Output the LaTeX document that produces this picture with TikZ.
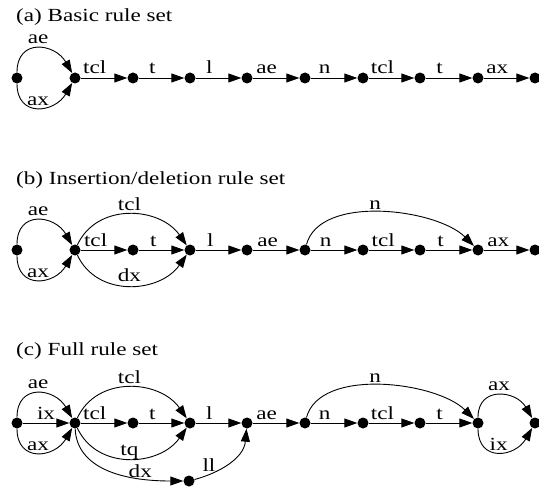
\documentclass[tikz,border=0pt]{standalone}
\usepackage{fontspec}
\setmainfont{Liberation Serif}
\usetikzlibrary{arrows.meta}
% labels are set a little wider than the font's natural shape
\newcommand{\wtext}[1]{\scalebox{1.25}[1]{#1}}
\tikzset{
  dot/.style={circle, fill=black, inner sep=0pt, minimum size=11pt},
  edge/.style={line width=0.9pt, -{Triangle[length=13pt,width=9pt]}},
  lbl/.style={font=\fontsize{18.5}{20}\selectfont, inner sep=0pt, anchor=base},
  title/.style={font=\fontsize{18.5}{20}\selectfont, inner sep=0pt, anchor=base west},
}
\begin{document}
\begin{tikzpicture}[x=1pt,y=-1pt]
\useasboundingbox (0,0) rectangle (539,487);

% panel titles
\node[title] (ta) at (16,22)  {\wtext{(a) Basic rule set}};
\node[title] (tb) at (16,184) {\wtext{(b) Insertion/deletion rule set}};
\node[title] (tc) at (16,355) {\wtext{(c) Full rule set}};

% states of the three networks
\foreach \x [count=\i from 0] in {17,75,133,190,247,305,363,420,478,535} {
  \node[dot] (a\i) at (\x,78)  {};
  \node[dot] (b\i) at (\x,250) {};
  \node[dot] (c\i) at (\x,423) {};
}
\node[dot] (c10) at (189,481) {};

% (a) basic rule set
\draw[edge] (a0) to[out=90,in=120,looseness=1.6] node[lbl,midway,yshift=5pt] {\wtext{ae}} (a1);
\draw[edge] (a0) to[out=-90,in=-120,looseness=1.6] node[lbl,midway,yshift=2pt] {\wtext{ax}} (a1);
\foreach \s/\t/\l in {1/2/tcl,2/3/t,3/4/l,4/5/ae,5/6/n,6/7/tcl,7/8/t,8/9/ax}
  \draw[edge] (a\s) -- node[lbl,pos=0.3,yshift=4pt] {\wtext{\l}} (a\t);

% (b) insertion/deletion rule set
\draw[edge] (b0) to[out=90,in=120,looseness=1.6] node[lbl,midway,yshift=5pt] {\wtext{ae}} (b1);
\draw[edge] (b0) to[out=-90,in=-120,looseness=1.6] node[lbl,midway,yshift=2pt] {\wtext{ax}} (b1);
\draw[edge] (b1) to[out=65,in=125,looseness=1.1] node[lbl,midway,yshift=4pt] {\wtext{tcl}} (b3);
\draw[edge] (b1) to[out=-65,in=-125,looseness=1.1] node[lbl,midway,yshift=4pt] {\wtext{dx}} (b3);
\draw[edge] (b5) to[out=75,in=135,looseness=0.8] node[lbl,pos=0.47,yshift=3pt] {\wtext{n}} (b8);
\foreach \s/\t/\l in {1/2/tcl,2/3/t,3/4/l,4/5/ae,5/6/n,6/7/tcl,7/8/t,8/9/ax}
  \draw[edge] (b\s) -- node[lbl,pos=0.32,yshift=4pt] {\wtext{\l}} (b\t);

% (c) full rule set
\draw[edge] (c0) to[out=90,in=120,looseness=1.6] node[lbl,midway,yshift=5pt] {\wtext{ae}} (c1);
\draw[edge] (c0) to[out=-90,in=-120,looseness=1.6] node[lbl,midway,yshift=2pt] {\wtext{ax}} (c1);
\draw[edge] (c0) -- node[lbl,midway,yshift=4pt] {\wtext{ix}} (c1);
\draw[edge] (c1) to[out=65,in=125,looseness=1.1] node[lbl,midway,yshift=4pt] {\wtext{tcl}} (c3);
\draw[edge] (c1) to[out=-65,in=-125,looseness=1.1] node[lbl,midway,yshift=2.5pt] {\wtext{tq}} (c3);
\draw[edge] (c1) to[out=-88,in=180,out distance=35pt,in distance=70pt]
  node[lbl,pos=0.77,yshift=1pt] {\wtext{dx}} (c10);
\draw[edge] (c10) to[out=15,in=-95,out distance=25pt,in distance=30pt]
  node[lbl,pos=0.2,yshift=3pt] {\wtext{ll}} (c4);
\draw[edge] (c5) to[out=75,in=135,looseness=0.8] node[lbl,pos=0.47,yshift=3pt] {\wtext{n}} (c8);
\draw[edge] (c8) to[out=90,in=120,looseness=1.5] node[lbl,midway,yshift=5pt] {\wtext{ax}} (c9);
\draw[edge] (c8) to[out=-90,in=-120,looseness=1.6] node[lbl,midway,yshift=2pt] {\wtext{ix}} (c9);
\foreach \s/\t/\l in {1/2/tcl,2/3/t,3/4/l,4/5/ae,5/6/n,6/7/tcl,7/8/t}
  \draw[edge] (c\s) -- node[lbl,pos=0.3,yshift=4pt] {\wtext{\l}} (c\t);
\end{tikzpicture}
\end{document}
